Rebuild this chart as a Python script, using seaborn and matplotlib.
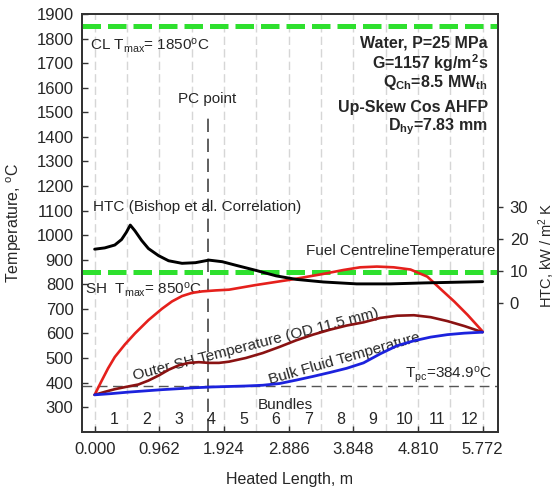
import matplotlib
matplotlib.use("Agg")
import matplotlib.pyplot as plt
import seaborn as sns

# ---- data -------------------------------------------------------------
bundle_edges = [0.000, 0.481, 0.962, 1.443, 1.924, 2.405, 2.886,
                3.367, 3.848, 4.329, 4.810, 5.291, 5.772]
bundle_numbers = [str(i) for i in range(1, 13)]
length_ticks = [0.000, 0.962, 1.924, 2.886, 3.848, 4.810, 5.772]
temp_ticks = list(range(300, 2000, 100))
htc_ticks = [0, 10, 20, 30]

bulk_x = [0, 0.25, 0.5, 0.75, 1.0, 1.25, 1.5, 1.75, 2.0, 2.25, 2.5, 2.75,
          3.0, 3.25, 3.5, 3.75, 4.0, 4.25, 4.5, 4.75, 5.0, 5.25, 5.5, 5.772]
bulk_t = [350, 355, 361, 366, 371, 375, 379, 382, 384, 386, 389, 396,
          410, 425, 441, 458, 480, 517, 550, 570, 585, 595, 601, 605]

sheath_x = [0, 0.15, 0.3, 0.48, 0.65, 0.8, 0.962, 1.1, 1.25, 1.4, 1.55, 1.7,
            1.85, 2.0, 2.25, 2.5, 2.75, 3.0, 3.25, 3.5, 3.75, 4.0, 4.25, 4.5,
            4.75, 5.0, 5.25, 5.5, 5.772]
sheath_t = [350, 362, 373, 383, 392, 408, 430, 452, 470, 480, 483, 480,
            480, 485, 500, 520, 545, 572, 595, 615, 632, 645, 663, 672,
            674, 666, 650, 630, 605]

fuel_x = [0, 0.1, 0.2, 0.3, 0.45, 0.6, 0.8, 1.0, 1.15, 1.3, 1.45, 1.6, 1.8,
          2.0, 2.4, 2.9, 3.4, 3.7, 3.95, 4.2, 4.45, 4.7, 4.95, 5.15, 5.35,
          5.55, 5.772]
fuel_t = [350, 405, 458, 504, 555, 600, 654, 700, 730, 752, 765, 771, 775,
          778, 797, 818, 842, 858, 869, 872, 869, 860, 831, 780, 730,
          675, 608]

htc_x = [0, 0.15, 0.3, 0.4, 0.47, 0.53, 0.6, 0.7, 0.8, 0.95, 1.1, 1.3, 1.5,
         1.7, 1.9, 2.1, 2.4, 2.7, 3.0, 3.4, 3.9, 4.4, 4.9, 5.772]
htc_v = [16.8, 17.2, 18.1, 19.8, 22.0, 24.3, 22.5, 19.5, 17.0, 14.8, 13.2,
         12.4, 12.6, 13.4, 12.9, 11.8, 10.2, 8.5, 7.4, 6.6, 6.0, 6.0, 6.3, 6.7]

cl_limit = 1850
sh_limit = 850
t_pc = 384.9
pc_point = 1.68

# ---- style ------------------------------------------------------------
sns.set_style("ticks")
plt.rcParams["font.family"] = ["Liberation Sans", "DejaVu Sans"]
plt.rcParams["font.size"] = 11
plt.rcParams["mathtext.fontset"] = "custom"
plt.rcParams["mathtext.rm"] = "Liberation Sans"
plt.rcParams["mathtext.it"] = "Liberation Sans:italic"
plt.rcParams["mathtext.bf"] = "Liberation Sans:bold"
plt.rcParams["mathtext.default"] = "rm"

fig = plt.figure(figsize=(5.57, 4.91), dpi=100)
ax = fig.add_axes([0.147, 0.1208, 0.7469, 0.8507])
ax2 = ax.twinx()

# bundle boundaries
for e in bundle_edges:
    ax.axvline(e, color="#d6d6d6", lw=1.0, ls=(0, (6, 3)), zorder=0)

# limits and reference lines
green = "#2ee02e"
ax.axhline(cl_limit, color=green, lw=3.6, ls=(0, (3.7, 1.4)), zorder=3)
ax.axhline(sh_limit, color=green, lw=3.6, ls=(0, (3.7, 1.4)), zorder=3)
ax.axhline(t_pc, color="#555555", lw=1.0, ls=(0, (7, 4)), zorder=1)
ax.vlines(pc_point, 200, 1500, color="#444444", lw=1.2, ls=(0, (8, 4)), zorder=1)

# temperature profiles
sns.lineplot(x=fuel_x, y=fuel_t, ax=ax, color="#e5201c", lw=1.9,
             estimator=None, zorder=4)
sns.lineplot(x=sheath_x, y=sheath_t, ax=ax, color="#8a1212", lw=1.9,
             estimator=None, zorder=4)
sns.lineplot(x=bulk_x, y=bulk_t, ax=ax, color="#1c22dd", lw=2.0,
             estimator=None, zorder=4)

# heat transfer coefficient
sns.lineplot(x=htc_x, y=htc_v, ax=ax2, color="black", lw=2.1,
             estimator=None, zorder=4)

# axes
ax.set_xlim(-0.19, 6.0)
ax.set_ylim(200, 1900)
ax.set_xticks(length_ticks)
ax.set_xticklabels([f"{v:.3f}" for v in length_ticks])
ax.set_yticks(temp_ticks)
ax.tick_params(axis="both", direction="in", length=4, width=1.0,
               labelsize=12, color="#333333")
ax.tick_params(axis="x", pad=7.5)
ax.tick_params(axis="y", pad=6)
ax.set_xlabel("Heated Length, m", fontsize=11.5, labelpad=11)
ax.set_ylabel("Temperature, $^o$C", fontsize=11.5, labelpad=9)

ax2.set_ylim(-40, 90)
ax2.set_yticks(htc_ticks)
ax2.tick_params(axis="y", direction="out", length=3.5, width=1.0,
                labelsize=12, pad=5, color="#333333")
ax2.set_ylabel("HTC, kW / m$^2$ K", fontsize=10.5)
ax2.yaxis.set_label_coords(1.092, 0.423)

for a in (ax, ax2):
    for s in a.spines.values():
        s.set_color("#333333")
        s.set_linewidth(1.3)

# annotations
tr = ax.transAxes
ax.text(0.019, 0.923, "CL T$_{max}$= 1850$^o$C", transform=tr, va="center",
        ha="left", fontsize=11)
ax.text(0.007, 0.339, "SH  T$_{max}$= 850$^o$C", transform=tr, va="center",
        ha="left", fontsize=11)
ax.text(0.026, 0.538, "HTC (Bishop et al. Correlation)", transform=tr,
        va="center", ha="left", fontsize=11)
ax.text(pc_point, 1525, "PC point", va="bottom", ha="center", fontsize=11)
ax.text(0.993, 0.432, "Fuel CentrelineTemperature", transform=tr,
        va="center", ha="right", fontsize=11)
ax.text(0.985, 0.136, "T$_{pc}$=384.9$^o$C", transform=tr, va="center",
        ha="right", fontsize=11)
ax.text(0.488, 0.064, "Bundles", transform=tr, va="center", ha="center",
        fontsize=11)

info = [
    (0.930, "Water, P=25 MPa"),
    (0.882, "G=1157 kg/m$^\\mathbf{2}$s"),
    (0.837, "Q$_{\\mathbf{Ch}}$=8.5 MW$_{\\mathbf{th}}$"),
    (0.775, "Up-Skew Cos AHFP"),
    (0.729, "D$_{\\mathbf{hy}}$=7.83 mm"),
]
for yy, s in info:
    ax.text(0.976, yy, s, transform=tr, va="center", ha="right",
            fontsize=11.5, fontweight="bold")

ax.text(2.40, 556, "Outer SH Temperature (OD 11.5 mm)", rotation=14.5,
        va="center", ha="center", fontsize=11, rotation_mode="anchor")
ax.text(3.71, 499, "Bulk Fluid Temperature", rotation=16,
        va="center", ha="center", fontsize=11, rotation_mode="anchor")

for i, lab in enumerate(bundle_numbers):
    xc = (bundle_edges[i] + bundle_edges[i + 1]) / 2 + 0.05
    ax.text(xc, 0.028, lab, transform=ax.get_xaxis_transform(),
            va="center", ha="center", fontsize=11.5)

fig.savefig("out.png", dpi=100)
